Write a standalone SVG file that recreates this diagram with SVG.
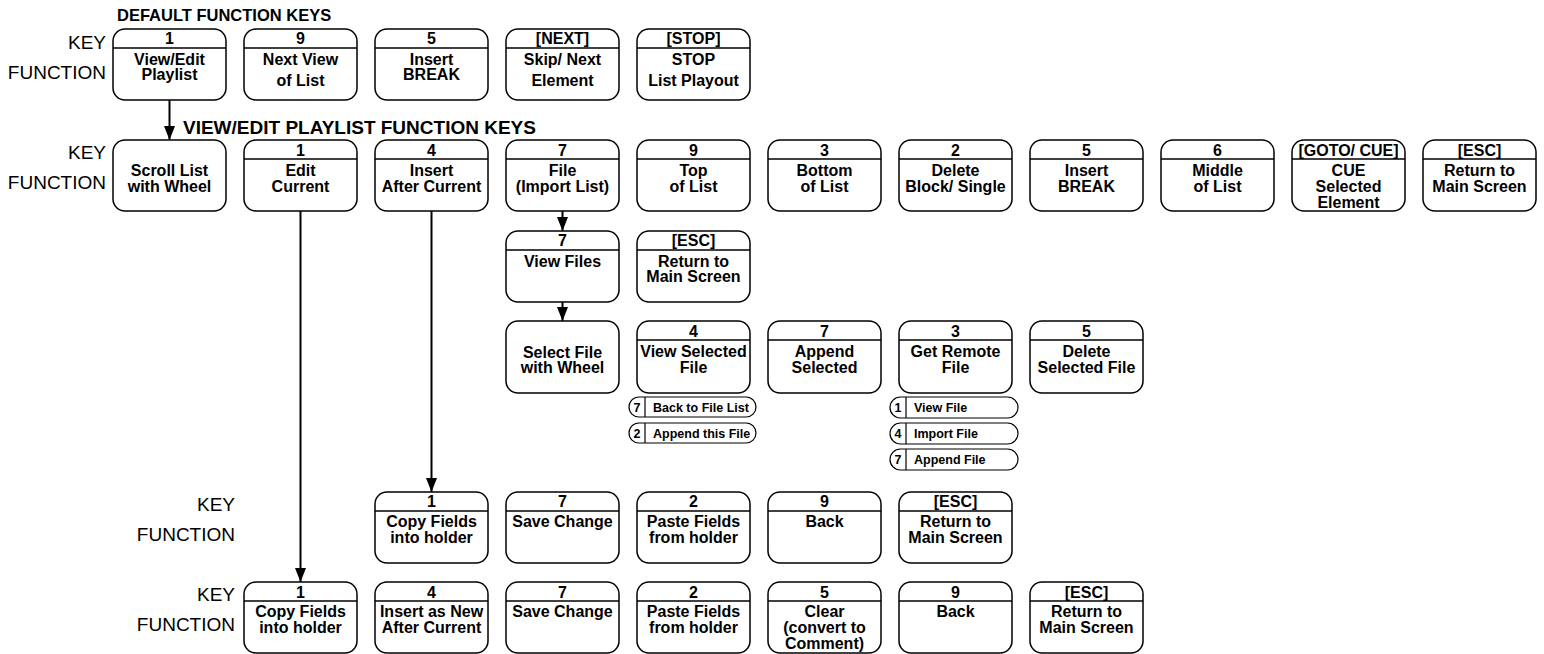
<svg xmlns="http://www.w3.org/2000/svg" width="1544" height="654" viewBox="0 0 1544 654">
<style>
.bg{fill:#fff}
.box{fill:#fff;stroke:#000;stroke-width:1.5}
.dv{stroke:#000;stroke-width:1.3}
.t{font-family:"Liberation Sans",Arial,Helvetica,sans-serif;font-weight:bold;font-size:16px;text-anchor:middle;fill:#000}
.lb{font-family:"Liberation Sans",Arial,Helvetica,sans-serif;font-size:19px;text-anchor:end;fill:#000}
.h1{font-family:"Liberation Sans",Arial,Helvetica,sans-serif;font-weight:bold;font-size:16.5px;fill:#000}
.h2{font-family:"Liberation Sans",Arial,Helvetica,sans-serif;font-weight:bold;font-size:19px;fill:#000}
.pill{fill:#fff;stroke:#000;stroke-width:1.2}
.pn{font-family:"Liberation Sans",Arial,Helvetica,sans-serif;font-weight:bold;font-size:12.5px;text-anchor:middle;fill:#000}
.pt{font-family:"Liberation Sans",Arial,Helvetica,sans-serif;font-weight:bold;font-size:12.5px;fill:#000}
.conn{stroke:#000;stroke-width:2;fill:none;marker-end:url(#arr)}
</style>
<defs>
<marker id="arr" markerUnits="userSpaceOnUse" viewBox="0 0 14 11" refX="14" refY="5.5" markerWidth="14" markerHeight="11" orient="auto">
<path d="M0,0 L14,5.5 L0,11 Z" fill="#000"/>
</marker>
</defs>
<rect class="bg" x="0" y="0" width="1544" height="654"/>

<g id="headings">
<text class="h1" x="117" y="21">DEFAULT FUNCTION KEYS</text>
<text class="h2" x="183" y="134">VIEW/EDIT PLAYLIST FUNCTION KEYS</text>
</g>

<g id="labels">
<text class="lb" x="106" y="49">KEY</text>
<text class="lb" x="106" y="79">FUNCTION</text>
<text class="lb" x="106" y="159">KEY</text>
<text class="lb" x="106" y="189">FUNCTION</text>
<text class="lb" x="235" y="511">KEY</text>
<text class="lb" x="235" y="541">FUNCTION</text>
<text class="lb" x="235" y="601">KEY</text>
<text class="lb" x="235" y="631">FUNCTION</text>
</g>

<g id="connectors">
<path class="conn" d="M169.5,100 L169.5,140"/>
<path class="conn" d="M300.5,211 L300.5,582"/>
<path class="conn" d="M431.5,211 L431.5,492"/>
<path class="conn" d="M562.5,211 L562.5,231"/>
<path class="conn" d="M562.5,302 L562.5,321"/>
</g>

<!-- Row 1 -->
<g id="r1-view-edit"><rect class="box" x="113" y="29" width="113" height="71" rx="12"/><line class="dv" x1="113" y1="48" x2="226" y2="48"/>
<text class="t" x="169.5" y="44">1</text><text class="t" x="169.5" y="65">View/Edit</text><text class="t" x="169.5" y="80">Playlist</text></g>
<g id="r1-next-view"><rect class="box" x="244" y="29" width="113" height="71" rx="12"/><line class="dv" x1="244" y1="48" x2="357" y2="48"/>
<text class="t" x="300.5" y="44">9</text><text class="t" x="300.5" y="65">Next View</text><text class="t" x="300.5" y="86">of List</text></g>
<g id="r1-insert-break"><rect class="box" x="375" y="29" width="113" height="71" rx="12"/><line class="dv" x1="375" y1="48" x2="488" y2="48"/>
<text class="t" x="431.5" y="44">5</text><text class="t" x="431.5" y="65">Insert</text><text class="t" x="431.5" y="80">BREAK</text></g>
<g id="r1-next"><rect class="box" x="506" y="29" width="113" height="71" rx="12"/><line class="dv" x1="506" y1="48" x2="619" y2="48"/>
<text class="t" x="562.5" y="44">[NEXT]</text><text class="t" x="562.5" y="65">Skip/ Next</text><text class="t" x="562.5" y="86">Element</text></g>
<g id="r1-stop"><rect class="box" x="637" y="29" width="113" height="71" rx="12"/><line class="dv" x1="637" y1="48" x2="750" y2="48"/>
<text class="t" x="693.5" y="44">[STOP]</text><text class="t" x="693.5" y="65">STOP</text><text class="t" x="693.5" y="86">List Playout</text></g>

<!-- Row 2 -->
<g id="r2-scroll"><rect class="box" x="113" y="140" width="113" height="71" rx="12"/>
<text class="t" x="169.5" y="176">Scroll List</text><text class="t" x="169.5" y="192">with Wheel</text></g>
<g id="r2-edit"><rect class="box" x="244" y="140" width="113" height="71" rx="12"/><line class="dv" x1="244" y1="159" x2="357" y2="159"/>
<text class="t" x="300.5" y="156">1</text><text class="t" x="300.5" y="176">Edit</text><text class="t" x="300.5" y="192">Current</text></g>
<g id="r2-insert"><rect class="box" x="375" y="140" width="113" height="71" rx="12"/><line class="dv" x1="375" y1="159" x2="488" y2="159"/>
<text class="t" x="431.5" y="156">4</text><text class="t" x="431.5" y="176">Insert</text><text class="t" x="431.5" y="192">After Current</text></g>
<g id="r2-file"><rect class="box" x="506" y="140" width="113" height="71" rx="12"/><line class="dv" x1="506" y1="159" x2="619" y2="159"/>
<text class="t" x="562.5" y="156">7</text><text class="t" x="562.5" y="176">File</text><text class="t" x="562.5" y="192">(Import List)</text></g>
<g id="r2-top"><rect class="box" x="637" y="140" width="113" height="71" rx="12"/><line class="dv" x1="637" y1="159" x2="750" y2="159"/>
<text class="t" x="693.5" y="156">9</text><text class="t" x="693.5" y="176">Top</text><text class="t" x="693.5" y="192">of List</text></g>
<g id="r2-bottom"><rect class="box" x="768" y="140" width="113" height="71" rx="12"/><line class="dv" x1="768" y1="159" x2="881" y2="159"/>
<text class="t" x="824.5" y="156">3</text><text class="t" x="824.5" y="176">Bottom</text><text class="t" x="824.5" y="192">of List</text></g>
<g id="r2-delete"><rect class="box" x="899" y="140" width="113" height="71" rx="12"/><line class="dv" x1="899" y1="159" x2="1012" y2="159"/>
<text class="t" x="955.5" y="156">2</text><text class="t" x="955.5" y="176">Delete</text><text class="t" x="955.5" y="192">Block/ Single</text></g>
<g id="r2-break"><rect class="box" x="1030" y="140" width="113" height="71" rx="12"/><line class="dv" x1="1030" y1="159" x2="1143" y2="159"/>
<text class="t" x="1086.5" y="156">5</text><text class="t" x="1086.5" y="176">Insert</text><text class="t" x="1086.5" y="192">BREAK</text></g>
<g id="r2-middle"><rect class="box" x="1161" y="140" width="113" height="71" rx="12"/><line class="dv" x1="1161" y1="159" x2="1274" y2="159"/>
<text class="t" x="1217.5" y="156">6</text><text class="t" x="1217.5" y="176">Middle</text><text class="t" x="1217.5" y="192">of List</text></g>
<g id="r2-cue"><rect class="box" x="1292" y="140" width="113" height="71" rx="12"/><line class="dv" x1="1292" y1="159" x2="1405" y2="159"/>
<text class="t" x="1348.5" y="156">[GOTO/ CUE]</text><text class="t" x="1348.5" y="176">CUE</text><text class="t" x="1348.5" y="192">Selected</text><text class="t" x="1348.5" y="208">Element</text></g>
<g id="r2-esc"><rect class="box" x="1423" y="140" width="113" height="71" rx="12"/><line class="dv" x1="1423" y1="159" x2="1536" y2="159"/>
<text class="t" x="1479.5" y="156">[ESC]</text><text class="t" x="1479.5" y="176">Return to</text><text class="t" x="1479.5" y="192">Main Screen</text></g>

<!-- Row 3 -->
<g id="r3-view-files"><rect class="box" x="506" y="231" width="113" height="71" rx="12"/><line class="dv" x1="506" y1="250" x2="619" y2="250"/>
<text class="t" x="562.5" y="246">7</text><text class="t" x="562.5" y="267">View Files</text></g>
<g id="r3-esc"><rect class="box" x="637" y="231" width="113" height="71" rx="12"/><line class="dv" x1="637" y1="250" x2="750" y2="250"/>
<text class="t" x="693.5" y="246">[ESC]</text><text class="t" x="693.5" y="267">Return to</text><text class="t" x="693.5" y="282">Main Screen</text></g>

<!-- Row 4 -->
<g id="r4-select"><rect class="box" x="506" y="321" width="113" height="72" rx="12"/>
<text class="t" x="562.5" y="358">Select File</text><text class="t" x="562.5" y="373">with Wheel</text></g>
<g id="r4-view-selected"><rect class="box" x="637" y="321" width="113" height="72" rx="12"/><line class="dv" x1="637" y1="340" x2="750" y2="340"/>
<text class="t" x="693.5" y="337">4</text><text class="t" x="693.5" y="357">View Selected</text><text class="t" x="693.5" y="373">File</text></g>
<g id="r4-append"><rect class="box" x="768" y="321" width="113" height="72" rx="12"/><line class="dv" x1="768" y1="340" x2="881" y2="340"/>
<text class="t" x="824.5" y="337">7</text><text class="t" x="824.5" y="357">Append</text><text class="t" x="824.5" y="373">Selected</text></g>
<g id="r4-remote"><rect class="box" x="899" y="321" width="113" height="72" rx="12"/><line class="dv" x1="899" y1="340" x2="1012" y2="340"/>
<text class="t" x="955.5" y="337">3</text><text class="t" x="955.5" y="357">Get Remote</text><text class="t" x="955.5" y="373">File</text></g>
<g id="r4-delete"><rect class="box" x="1030" y="321" width="113" height="72" rx="12"/><line class="dv" x1="1030" y1="340" x2="1143" y2="340"/>
<text class="t" x="1086.5" y="337">5</text><text class="t" x="1086.5" y="357">Delete</text><text class="t" x="1086.5" y="373">Selected File</text></g>

<!-- Pills -->
<g id="p-back"><rect class="pill" x="629" y="397" width="127" height="20" rx="10"/><line class="pill" x1="645" y1="397" x2="645" y2="417"/>
<text class="pn" x="637" y="411.5">7</text><text class="pt" x="653" y="411.5">Back to File List</text></g>
<g id="p-append-this"><rect class="pill" x="629" y="423" width="127" height="20" rx="10"/><line class="pill" x1="645" y1="423" x2="645" y2="443"/>
<text class="pn" x="637" y="437.5">2</text><text class="pt" x="653" y="437.5">Append this File</text></g>
<g id="p-view-file"><rect class="pill" x="890" y="397" width="128" height="21" rx="10.5"/><line class="pill" x1="906" y1="397" x2="906" y2="418"/>
<text class="pn" x="898" y="412">1</text><text class="pt" x="914" y="412">View File</text></g>
<g id="p-import-file"><rect class="pill" x="890" y="423" width="128" height="21" rx="10.5"/><line class="pill" x1="906" y1="423" x2="906" y2="444"/>
<text class="pn" x="898" y="438">4</text><text class="pt" x="914" y="438">Import File</text></g>
<g id="p-append-file"><rect class="pill" x="890" y="449" width="128" height="21" rx="10.5"/><line class="pill" x1="906" y1="449" x2="906" y2="470"/>
<text class="pn" x="898" y="464">7</text><text class="pt" x="914" y="464">Append File</text></g>

<!-- Row 5 -->
<g id="r5-copy"><rect class="box" x="375" y="492" width="113" height="71" rx="12"/><line class="dv" x1="375" y1="511" x2="488" y2="511"/>
<text class="t" x="431.5" y="507">1</text><text class="t" x="431.5" y="527">Copy Fields</text><text class="t" x="431.5" y="543">into holder</text></g>
<g id="r5-save"><rect class="box" x="506" y="492" width="113" height="71" rx="12"/><line class="dv" x1="506" y1="511" x2="619" y2="511"/>
<text class="t" x="562.5" y="507">7</text><text class="t" x="562.5" y="527">Save Change</text></g>
<g id="r5-paste"><rect class="box" x="637" y="492" width="113" height="71" rx="12"/><line class="dv" x1="637" y1="511" x2="750" y2="511"/>
<text class="t" x="693.5" y="507">2</text><text class="t" x="693.5" y="527">Paste Fields</text><text class="t" x="693.5" y="543">from holder</text></g>
<g id="r5-back"><rect class="box" x="768" y="492" width="113" height="71" rx="12"/><line class="dv" x1="768" y1="511" x2="881" y2="511"/>
<text class="t" x="824.5" y="507">9</text><text class="t" x="824.5" y="527">Back</text></g>
<g id="r5-esc"><rect class="box" x="899" y="492" width="113" height="71" rx="12"/><line class="dv" x1="899" y1="511" x2="1012" y2="511"/>
<text class="t" x="955.5" y="507">[ESC]</text><text class="t" x="955.5" y="527">Return to</text><text class="t" x="955.5" y="543">Main Screen</text></g>

<!-- Row 6 -->
<g id="r6-copy"><rect class="box" x="244" y="582" width="113" height="71" rx="12"/><line class="dv" x1="244" y1="601" x2="357" y2="601"/>
<text class="t" x="300.5" y="598">1</text><text class="t" x="300.5" y="617">Copy Fields</text><text class="t" x="300.5" y="633">into holder</text></g>
<g id="r6-insert-new"><rect class="box" x="375" y="582" width="113" height="71" rx="12"/><line class="dv" x1="375" y1="601" x2="488" y2="601"/>
<text class="t" x="431.5" y="598">4</text><text class="t" x="431.5" y="617">Insert as New</text><text class="t" x="431.5" y="633">After Current</text></g>
<g id="r6-save"><rect class="box" x="506" y="582" width="113" height="71" rx="12"/><line class="dv" x1="506" y1="601" x2="619" y2="601"/>
<text class="t" x="562.5" y="598">7</text><text class="t" x="562.5" y="617">Save Change</text></g>
<g id="r6-paste"><rect class="box" x="637" y="582" width="113" height="71" rx="12"/><line class="dv" x1="637" y1="601" x2="750" y2="601"/>
<text class="t" x="693.5" y="598">2</text><text class="t" x="693.5" y="617">Paste Fields</text><text class="t" x="693.5" y="633">from holder</text></g>
<g id="r6-clear"><rect class="box" x="768" y="582" width="113" height="71" rx="12"/><line class="dv" x1="768" y1="601" x2="881" y2="601"/>
<text class="t" x="824.5" y="598">5</text><text class="t" x="824.5" y="617">Clear</text><text class="t" x="824.5" y="633">(convert to</text><text class="t" x="824.5" y="649">Comment)</text></g>
<g id="r6-back"><rect class="box" x="899" y="582" width="113" height="71" rx="12"/><line class="dv" x1="899" y1="601" x2="1012" y2="601"/>
<text class="t" x="955.5" y="598">9</text><text class="t" x="955.5" y="617">Back</text></g>
<g id="r6-esc"><rect class="box" x="1030" y="582" width="113" height="71" rx="12"/><line class="dv" x1="1030" y1="601" x2="1143" y2="601"/>
<text class="t" x="1086.5" y="598">[ESC]</text><text class="t" x="1086.5" y="617">Return to</text><text class="t" x="1086.5" y="633">Main Screen</text></g>
</svg>
